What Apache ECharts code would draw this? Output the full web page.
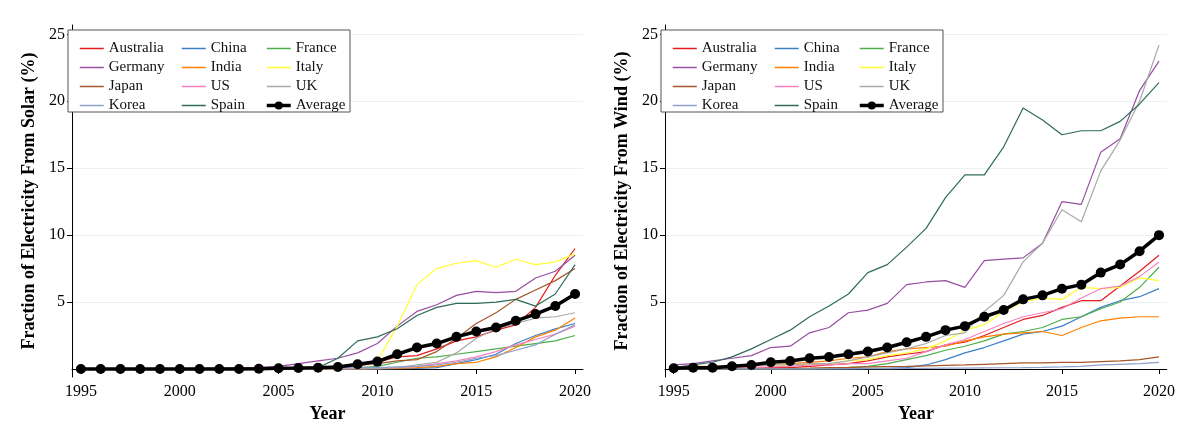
<!DOCTYPE html>
<html>
<head>
<meta charset="utf-8">
<script src="https://cdn.jsdelivr.net/npm/echarts@6/dist/echarts.min.js"></script>
<style>
  html, body { margin: 0; padding: 0; background: #fff; }
  #chart { width: 1178px; height: 436px; }
</style>
</head>
<body>
<div id="chart"></div>
<script>
var years = [];
for (var y = 1995; y <= 2020; y++) years.push(y);

var countries = ['Australia', 'China', 'France', 'Germany', 'India', 'Italy', 'Japan', 'US', 'UK', 'Korea', 'Spain', 'Average'];
var colors = ['#e41a1c', '#3b7fc8', '#4daf4a', '#984ea3', '#ff7f00', '#ffff33', '#a65628', '#f781bf', '#a8a8a8', '#8da0cb', '#2f6b5a', '#000000'];
var xTicks = [1995, 2000, 2005, 2010, 2015, 2020];
var yTicks = [5, 10, 15, 20, 25];

// solar share (%), 1995-2020
var solarAustralia = [0,0,0,0,0,0,0,0,0,0,0,0,0.05,0.1,0.2,0.5,0.9,1.0,1.5,2.1,2.4,2.9,3.3,4.6,7.0,9.0];
var solarChina     = [0,0,0,0,0,0,0,0,0,0,0,0,0,0,0,0,0.02,0.05,0.1,0.4,0.7,1.1,1.9,2.5,3.0,3.4];
var solarFrance    = [0,0,0,0,0,0,0,0,0,0,0,0,0,0.02,0.1,0.2,0.5,0.8,0.9,1.1,1.3,1.5,1.7,1.9,2.1,2.5];
var solarGermany   = [0,0,0,0,0,0,0.05,0.05,0.1,0.1,0.2,0.4,0.6,0.8,1.2,1.9,3.2,4.3,4.8,5.5,5.8,5.7,5.8,6.8,7.3,8.5];
var solarIndia     = [0,0,0,0,0,0,0,0,0,0,0,0,0,0,0,0.02,0.05,0.1,0.2,0.4,0.5,0.9,1.6,2.4,2.9,3.8];
var solarItaly     = [0,0,0,0,0,0,0,0,0,0,0,0,0.02,0.1,0.2,0.6,3.2,6.3,7.5,7.9,8.1,7.6,8.2,7.8,8.0,8.6];
var solarJapan     = [0,0,0,0,0,0,0,0.05,0.05,0.1,0.1,0.1,0.15,0.2,0.3,0.4,0.6,0.7,1.3,2.3,3.4,4.2,5.2,5.9,6.6,7.5];
var solarUS        = [0,0,0,0,0,0,0,0,0,0,0,0,0,0.02,0.05,0.08,0.1,0.2,0.4,0.6,0.9,1.3,1.8,2.2,2.6,3.2];
var solarUK        = [0,0,0,0,0,0,0,0,0,0,0,0,0,0,0,0.02,0.1,0.3,0.5,1.2,2.3,3.0,3.4,3.8,3.9,4.2];
var solarKorea     = [0,0,0,0,0,0,0,0,0,0,0,0,0.02,0.1,0.1,0.1,0.15,0.2,0.3,0.5,0.8,1.0,1.4,1.8,2.6,3.3];
var solarSpain     = [0,0,0,0,0,0,0,0,0,0,0,0,0.1,0.8,2.1,2.4,3.0,4.0,4.6,4.9,4.9,5.0,5.2,4.7,5.6,7.8];
var solarAverage   = [0,0,0,0,0,0,0,0,0,0.02,0.05,0.07,0.1,0.15,0.35,0.55,1.1,1.6,1.9,2.4,2.8,3.1,3.6,4.1,4.7,5.6];

// wind share (%), 1995-2020
var windAustralia = [0.05,0.05,0.05,0.05,0.1,0.1,0.1,0.2,0.3,0.4,0.6,0.9,1.1,1.3,1.8,2.0,2.5,3.1,3.7,4.0,4.6,5.1,5.1,6.2,7.3,8.5];
var windChina     = [0,0,0,0,0,0,0.02,0.02,0.03,0.04,0.05,0.05,0.1,0.3,0.7,1.2,1.6,2.1,2.6,2.8,3.2,3.9,4.6,5.1,5.4,6.0];
var windFrance    = [0,0,0,0,0,0,0,0,0.05,0.1,0.2,0.4,0.7,1.0,1.4,1.7,2.1,2.6,2.8,3.1,3.7,3.9,4.5,5.0,6.1,7.6];
var windGermany   = [0.3,0.4,0.6,0.8,1.0,1.6,1.7,2.7,3.1,4.2,4.4,4.9,6.3,6.5,6.6,6.1,8.1,8.2,8.3,9.4,12.5,12.3,16.2,17.2,20.8,23.0];
var windIndia     = [0.15,0.2,0.2,0.25,0.25,0.3,0.4,0.5,0.6,0.8,0.9,1.3,1.5,1.6,1.7,2.1,2.4,2.6,2.7,2.8,2.5,3.1,3.6,3.8,3.9,3.9];
var windItaly     = [0,0,0.05,0.1,0.2,0.3,0.3,0.35,0.4,0.6,0.7,1.0,1.2,1.5,2.1,2.9,3.3,4.3,5.0,5.3,5.2,6.1,6.0,6.1,6.8,6.6];
var windJapan     = [0,0,0,0.01,0.02,0.03,0.05,0.07,0.1,0.12,0.15,0.18,0.2,0.23,0.27,0.3,0.35,0.4,0.45,0.45,0.5,0.5,0.55,0.6,0.7,0.9];
var windUS        = [0.1,0.1,0.1,0.1,0.1,0.15,0.2,0.3,0.3,0.4,0.4,0.6,0.8,1.3,1.8,2.2,2.8,3.4,3.9,4.2,4.5,5.3,6.0,6.2,6.9,8.0];
var windUK        = [0.05,0.1,0.1,0.2,0.2,0.3,0.3,0.4,0.4,0.6,0.9,1.2,1.5,1.9,2.5,2.7,4.3,5.5,8.0,9.4,11.9,11.0,14.8,17.1,20.0,24.2];
var windKorea     = [0,0,0,0,0,0,0,0,0,0.01,0.02,0.03,0.05,0.05,0.06,0.07,0.08,0.09,0.1,0.12,0.15,0.2,0.3,0.35,0.4,0.5];
var windSpain     = [0.1,0.3,0.5,0.9,1.5,2.2,2.9,3.9,4.7,5.6,7.2,7.8,9.1,10.5,12.8,14.5,14.5,16.6,19.5,18.6,17.5,17.8,17.8,18.5,19.8,21.4];
var windAverage   = [0.05,0.1,0.1,0.2,0.3,0.5,0.6,0.8,0.9,1.1,1.3,1.6,2.0,2.4,2.9,3.2,3.9,4.4,5.2,5.5,6.0,6.3,7.2,7.8,8.8,10.0];

var solar = [solarAustralia, solarChina, solarFrance, solarGermany, solarIndia, solarItaly, solarJapan, solarUS, solarUK, solarKorea, solarSpain, solarAverage];
var wind = [windAustralia, windChina, windFrance, windGermany, windIndia, windItaly, windJapan, windUS, windUK, windKorea, windSpain, windAverage];

var font = 'Liberation Serif';
var chart = echarts.init(document.getElementById('chart'));

var grids = [
  { left: 72, top: 25, width: 511, height: 352 },
  { left: 665, top: 25, width: 513, height: 352 }
];
var titles = ['Fraction of Electricity From Solar (%)', 'Fraction of Electricity From Wind (%)'];

function xAxis(i) {
  return {
    type: 'value', gridIndex: i, min: 1994.55, max: 2020.4,
    name: 'Year', nameLocation: 'middle', nameGap: 28,
    nameTextStyle: { fontFamily: font, fontSize: 18, fontWeight: 'bold', color: '#000' },
    axisLine: { lineStyle: { color: '#000', width: 1 } },
    axisTick: { customValues: xTicks, length: 5, lineStyle: { color: '#000' } },
    axisLabel: { customValues: xTicks, formatter: function (v) { return String(v); },
      fontFamily: font, fontSize: 16, color: '#000', margin: 7 },
    splitLine: { show: false }
  };
}
function yAxis(i) {
  return {
    type: 'value', gridIndex: i, min: -0.6, max: 25.7,
    name: titles[i], nameLocation: 'middle', nameGap: 34,
    nameTextStyle: { fontFamily: font, fontSize: 18, fontWeight: 'bold', color: '#000' },
    axisLine: { show: true, lineStyle: { color: '#000', width: 1 } },
    axisTick: { show: true, customValues: yTicks, length: 5, lineStyle: { color: '#000' } },
    axisLabel: { customValues: yTicks, fontFamily: font, fontSize: 16, color: '#000', margin: 7 },
    splitLine: { show: true, customValues: yTicks, lineStyle: { color: '#eaf2f2', width: 1 } }
  };
}

var series = [];
[solar, wind].forEach(function (set, p) {
  set.forEach(function (vals, k) {
    var avg = countries[k] === 'Average';
    series.push({
      name: countries[k], type: 'line', xAxisIndex: p, yAxisIndex: p,
      data: years.map(function (yr, j) { return [yr, vals[j]]; }),
      color: colors[k],
      symbol: avg ? 'circle' : 'none', symbolSize: 10, showSymbol: avg,
      lineStyle: { width: avg ? 3.5 : 1.2, color: colors[k] },
      itemStyle: { color: colors[k] },
      z: avg ? 5 : 2, silent: true
    });
  });
});

var legendCols = [[0, 3, 6, 9], [1, 4, 7, 10], [2, 5, 8, 11]];
var colOffsets = [6, 108, 192];
var legends = [];
var graphics = [];
grids.forEach(function (g, p) {
  var bx = p === 0 ? 68 : 661;
  graphics.push({ type: 'rect', shape: { x: bx, y: 30, width: 282, height: 82 },
    style: { fill: '#fff', stroke: '#555', lineWidth: 1 }, z: 10 });
  legendCols.forEach(function (col, c) {
    legends.push({
      orient: 'vertical', left: bx + colOffsets[c], top: 36, itemWidth: 24, itemHeight: 10, itemGap: 4,
      data: col.map(function (k) {
        var avg = countries[k] === 'Average';
        return { name: countries[k], itemStyle: { opacity: avg ? 1 : 0 },
          lineStyle: { width: avg ? 3.5 : 1.5 } };
      }),
      textStyle: { fontFamily: font, fontSize: 15, color: '#111', padding: [0, 0, 0, 0] },
      selectedMode: false, z: 20
    });
  });
});

chart.setOption({
  animation: false,
  backgroundColor: '#fff',
  grid: grids,
  xAxis: [xAxis(0), xAxis(1)],
  yAxis: [yAxis(0), yAxis(1)],
  legend: legends,
  graphic: graphics,
  series: series
});
</script>
</body>
</html>
